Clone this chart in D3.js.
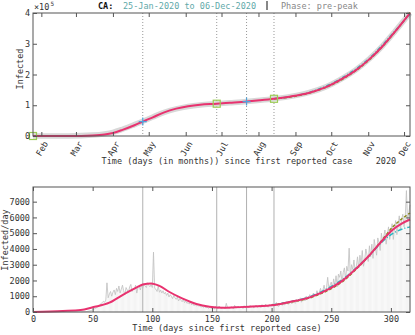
<!DOCTYPE html>
<html>
<head>
<meta charset="utf-8">
<script src="https://cdn.jsdelivr.net/npm/d3@7"></script>
<style>
  body { margin: 0; background: #fff; }
  text { font-family: "DejaVu Sans Mono", monospace; font-size: 8.5px; fill: #333; }
</style>
</head>
<body>
<div id="content"></div>
<script>
// ---- Data ----
// Days since first reported case (25-Jan-2020).
var eventDays = [92, 154, 179, 202];
var squareDays = [0, 154, 202];
var plusDays = [92, 179];

// Cumulative infected (x1e5): model fit and reported data.
var cumDays = [0, 30, 50, 60, 67, 75, 85, 92, 100, 110, 120, 130, 140, 154, 165, 179, 190, 202, 215, 231, 245, 260, 271, 282, 293, 304, 316];
var cumFit  = [0, 0.002, 0.02, 0.05, 0.1, 0.2, 0.35, 0.47, 0.6, 0.77, 0.89, 0.97, 1.02, 1.05, 1.08, 1.12, 1.16, 1.21, 1.28, 1.40, 1.58, 1.88, 2.15, 2.50, 2.92, 3.42, 4.0];
var cumData = [0, 0.002, 0.03, 0.07, 0.12, 0.22, 0.37, 0.48, 0.61, 0.77, 0.88, 0.96, 1.01, 1.05, 1.08, 1.12, 1.16, 1.21, 1.28, 1.41, 1.59, 1.89, 2.16, 2.51, 2.93, 3.43, 4.0];
var cumAltDays = [202, 231, 260, 282, 304, 316];
var cumCyan  = [1.21, 1.41, 1.91, 2.53, 3.44, 3.97];
var cumOlive = [1.21, 1.39, 1.86, 2.48, 3.41, 4.02];

// Daily new infected, reported (day 0..316).
var daily = [
  1,0,0,1,0,0,0,1,0,0,
  0,1,0,0,0,0,1,0,0,0,
  0,1,0,0,0,0,0,1,0,0,
  0,2,0,1,1,2,4,3,5,6,
  8,10,12,16,20,30,45,60,80,100,
  140,180,220,260,320,380,450,520,600,680,
  620,750,1850,900,1150,1300,1000,1250,1400,1100,
  1500,1300,1650,1200,1450,1700,1350,1100,1550,1400,
  1250,1600,1750,1300,1500,1450,1700,1200,1550,1650,
  1400,1750,1500,1800,1650,1550,1850,1700,1600,1750,
  1550,3800,1500,1450,1300,1650,1250,1400,1200,1350,
  1150,1250,1050,1200,950,1100,1000,850,1050,900,
  800,950,700,850,750,650,800,600,700,550,
  600,500,650,450,550,400,500,380,450,350,
  420,300,380,280,350,250,320,230,300,260,
  220,300,180,350,240,200,380,260,220,310,
  280,200,550,300,250,230,340,280,200,420,
  300,260,380,240,320,350,220,400,280,300,
  330,260,420,300,380,250,350,440,300,360,
  400,280,470,350,320,500,380,300,460,420,
  380,520,340,450,600,400,350,560,480,420,
  600,450,520,700,480,560,650,520,750,600,
  560,800,650,700,900,620,780,850,700,1000,
  820,900,1100,850,950,1200,1000,1050,1350,1100,
  1250,1500,1150,1400,1700,1300,1550,2200,1500,1700,
  1900,1500,2100,1700,2300,1600,2400,2200,2600,1900,
  2500,2800,2100,2900,2600,4050,2300,3000,2700,3300,
  2600,2900,3500,2800,3600,3100,3900,2900,3300,4000,
  3600,3200,4200,3500,4300,3400,4600,4100,3600,4700,
  4400,3900,5000,4500,4800,5200,4300,4900,5400,4600,
  5100,5600,4600,5300,5800,4900,5500,6100,5200,5900,
  6200,5400,6000,7700,5800,6300,6800
];

// Daily rate: model fit and two alternative fits.
var rateDays = [0, 25, 40, 50, 64, 75, 87, 92, 99, 106, 114, 125, 137, 148, 159, 170, 181, 192, 205, 215, 232, 249, 260, 271, 282, 293, 301, 309, 316];
var rateFit  = [0, 60, 120, 300, 590, 1075, 1560, 1740, 1815, 1660, 1285, 865, 510, 335, 270, 300, 335, 380, 480, 630, 930, 1500, 2025, 2765, 3600, 4555, 5190, 5610, 5870];
var altDays   = [200, 215, 232, 249, 260, 271, 282, 293, 301, 309, 316];
var rateCyan  = [440, 650, 970, 1580, 2100, 2800, 3600, 4480, 4950, 5250, 5400];
var rateOlive = [430, 610, 900, 1440, 1960, 2720, 3600, 4600, 5350, 5900, 6280];

var cumTicks = [0, 1, 2, 3, 4];
var rateTicks = [0, 1000, 2000, 3000, 4000, 5000, 6000, 7000];
var dayTicks = [0, 50, 100, 150, 200, 250, 300];

// ---- Setup ----
var pink = '#e8326f', cyan = '#2bb6c2', olive = '#8c8c1e';
var svg = d3.select('#content').append('svg').attr('width', 415).attr('height', 335);

var start = new Date(2020, 0, 25);
var x = d3.scaleLinear().domain([0, 316]).range([33, 410]);
var xt = d3.scaleTime().domain([start, d3.timeDay.offset(start, 316)]).range([33, 410]);
var months = d3.timeMonth.range(new Date(2020, 1, 1), new Date(2020, 11, 2));

function zip(xs, ys) { return xs.map(function(d, i) { return [d, ys[i]]; }); }

// Title
var title = svg.append('text').attr('y', 9);
title.append('tspan').attr('x', 98).attr('font-weight', 'bold').style('fill', '#111').text('CA:');
title.append('tspan').attr('x', 123).style('fill', '#5fa9a9').text('25-Jan-2020 to 06-Dec-2020');
svg.append('line').attr('x1', 267).attr('x2', 267).attr('y1', 1).attr('y2', 10).attr('stroke', '#111');
svg.append('text').attr('x', 281).attr('y', 9).style('fill', '#888').text('Phase: pre-peak');

// ---- Top panel: cumulative ----
var yTop = d3.scaleLinear().domain([0, 4]).range([136, 13]);
var gTop = svg.append('g');

gTop.selectAll('line.ev').data(eventDays).enter().append('line')
  .attr('x1', function(d) { return x(d); }).attr('x2', function(d) { return x(d); })
  .attr('y1', 13).attr('y2', 136)
  .attr('stroke', '#999').attr('stroke-dasharray', '1,2');

var lineTop = d3.line().x(function(d) { return x(d[0]); }).y(function(d) { return yTop(d[1]); }).curve(d3.curveMonotoneX);

gTop.append('path').datum(zip(cumDays, cumData)).attr('d', lineTop)
  .attr('fill', 'none').attr('stroke', '#d8d8d8').attr('stroke-width', 5.5);
gTop.append('path').datum(zip(cumAltDays, cumCyan)).attr('d', lineTop)
  .attr('fill', 'none').attr('stroke', cyan).attr('stroke-width', 1.5).attr('stroke-dasharray', '4,2,1,2');
gTop.append('path').datum(zip(cumAltDays, cumOlive)).attr('d', lineTop)
  .attr('fill', 'none').attr('stroke', olive).attr('stroke-width', 1.5).attr('stroke-dasharray', '3,2');
gTop.append('path').datum(zip(cumDays, cumFit)).attr('d', lineTop)
  .attr('fill', 'none').attr('stroke', pink).attr('stroke-width', 2);

function cumAt(d) { return d3.scaleLinear().domain(cumDays).range(cumFit)(d); }

gTop.selectAll('rect.sq').data(squareDays).enter().append('rect')
  .attr('x', function(d) { return x(d) - 3.5; }).attr('y', function(d) { return yTop(cumAt(d)) - 3.5; })
  .attr('width', 7).attr('height', 7).attr('fill', 'none').attr('stroke', '#9ccc55').attr('stroke-width', 1.2);
gTop.selectAll('path.plus').data(plusDays).enter().append('path')
  .attr('d', function(d) {
    var cx = x(d), cy = yTop(cumAt(d));
    return 'M' + (cx - 4) + ',' + cy + 'H' + (cx + 4) + 'M' + cx + ',' + (cy - 4) + 'V' + (cy + 4);
  })
  .attr('stroke', '#4fa3dc').attr('stroke-width', 1.2);

// axes (inward ticks)
gTop.append('g').attr('transform', 'translate(33,0)')
  .call(d3.axisLeft(yTop).tickValues(cumTicks).tickSize(-4).tickPadding(3).tickFormat(d3.format('d')));
gTop.append('g').attr('transform', 'translate(410,0)')
  .call(d3.axisRight(yTop).tickValues(cumTicks).tickSize(-4).tickFormat(''));
gTop.append('g').attr('transform', 'translate(0,13)')
  .call(d3.axisTop(xt).tickValues(months).tickSize(-4).tickFormat(''));
var gm = gTop.append('g').attr('transform', 'translate(0,136)')
  .call(d3.axisBottom(xt).tickValues(months).tickSize(-4).tickFormat(d3.timeFormat('%b')));
gm.selectAll('text').attr('x', 0).attr('y', 0).attr('dy', '0.35em')
  .attr('text-anchor', 'end').attr('transform', 'translate(4,6) rotate(-60)');

gTop.append('rect').attr('x', 33).attr('y', 13).attr('width', 377).attr('height', 123)
  .attr('fill', 'none').attr('stroke', '#555');

gTop.append('text').attr('x', 34).attr('y', 10).text('\u00d710');
gTop.append('text').attr('x', 50.5).attr('y', 5.5).style('font-size', '6px').text('5');
gTop.append('text').attr('transform', 'translate(22.5,69) rotate(-90)').attr('text-anchor', 'middle').text('Infected');
gTop.append('text').attr('x', 227).attr('y', 164).attr('text-anchor', 'middle')
  .text('Time (days (in months)) since first reported case');
gTop.append('text').attr('x', 386).attr('y', 164).attr('text-anchor', 'middle').text('2020');

// ---- Bottom panel: daily ----
var yB = d3.scaleLinear().domain([0, 7930]).range([312, 187]);
var gBot = svg.append('g');

gBot.selectAll('rect.bar').data(daily).enter().append('rect')
  .attr('x', function(d, i) { return x(i) - 0.35; })
  .attr('y', function(d) { return yB(d); })
  .attr('width', 0.7).attr('height', function(d) { return 312 - yB(d); })
  .attr('fill', '#efefef');

gBot.selectAll('line.ev').data(eventDays).enter().append('line')
  .attr('x1', function(d) { return x(d); }).attr('x2', function(d) { return x(d); })
  .attr('y1', 187).attr('y2', 312)
  .attr('stroke', '#a8a8a8').attr('stroke-width', 0.9);

gBot.append('path').datum(daily.map(function(d, i) { return [i, d]; }))
  .attr('d', d3.line().x(function(d) { return x(d[0]); }).y(function(d) { return yB(d[1]); }))
  .attr('fill', 'none').attr('stroke', '#c0c0c0').attr('stroke-width', 0.8);

var lineB = d3.line().x(function(d) { return x(d[0]); }).y(function(d) { return yB(d[1]); }).curve(d3.curveMonotoneX);
gBot.append('path').datum(zip(altDays, rateCyan)).attr('d', lineB)
  .attr('fill', 'none').attr('stroke', cyan).attr('stroke-width', 1.5).attr('stroke-dasharray', '5,2,1,2');
gBot.append('path').datum(zip(altDays, rateOlive)).attr('d', lineB)
  .attr('fill', 'none').attr('stroke', olive).attr('stroke-width', 1.5).attr('stroke-dasharray', '3,2');
gBot.append('path').datum(zip(rateDays, rateFit)).attr('d', lineB)
  .attr('fill', 'none').attr('stroke', pink).attr('stroke-width', 2);

gBot.append('g').attr('transform', 'translate(33,0)')
  .call(d3.axisLeft(yB).tickValues(rateTicks).tickSize(-4).tickPadding(3).tickFormat(d3.format('d')));
gBot.append('g').attr('transform', 'translate(410,0)')
  .call(d3.axisRight(yB).tickValues(rateTicks).tickSize(-4).tickFormat(''));
gBot.append('g').attr('transform', 'translate(0,187)')
  .call(d3.axisTop(x).tickValues(dayTicks).tickSize(-4).tickFormat(''));
var gd = gBot.append('g').attr('transform', 'translate(0,312)')
  .call(d3.axisBottom(x).tickValues(dayTicks).tickSize(-4).tickFormat(d3.format('d')));
gd.selectAll('text').attr('y', 10).attr('dy', 0);

gBot.append('rect').attr('x', 33).attr('y', 187).attr('width', 377).attr('height', 125)
  .attr('fill', 'none').attr('stroke', '#555');

gBot.append('text').attr('transform', 'translate(8,240) rotate(-90)').attr('text-anchor', 'middle').text('Infected/day');
gBot.append('text').attr('x', 227).attr('y', 331).attr('text-anchor', 'middle')
  .text('Time (days since first reported case)');

svg.selectAll('.domain').remove();
svg.selectAll('.tick line').attr('stroke', '#555');
</script>
</body>
</html>
